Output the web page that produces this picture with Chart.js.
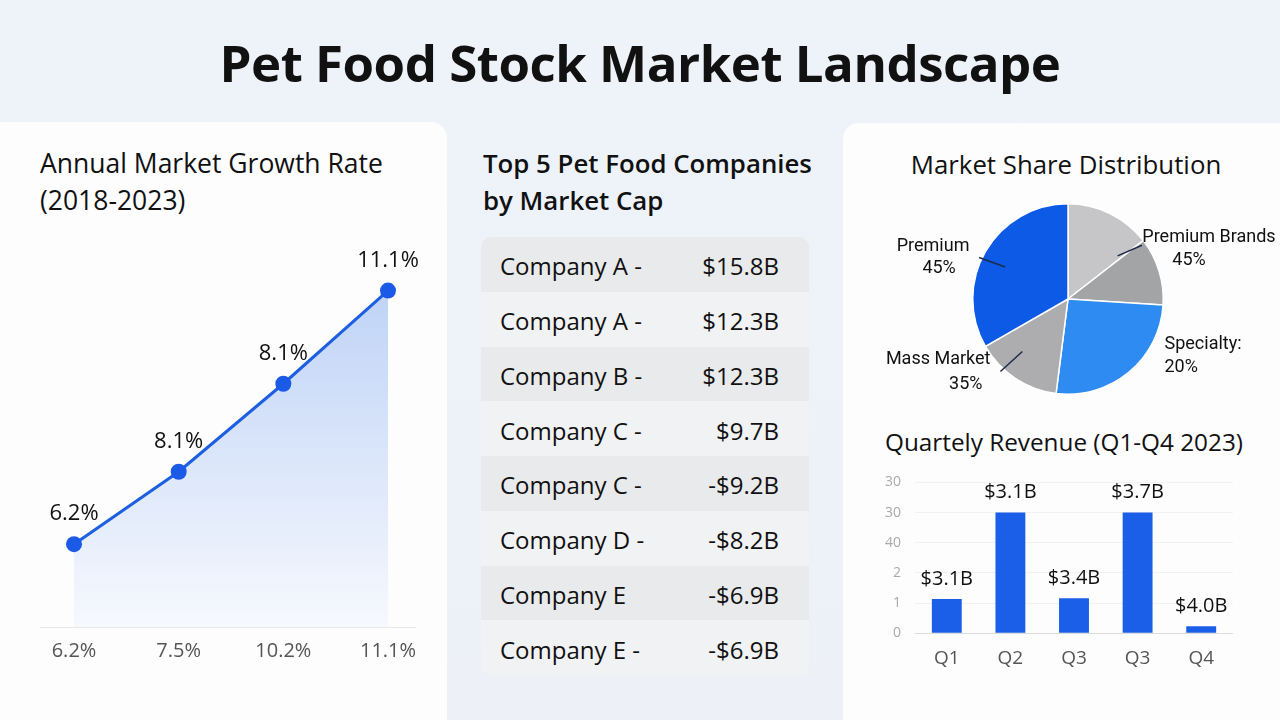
<!DOCTYPE html>
<html>
<head>
<meta charset="utf-8">
<script src="https://cdn.jsdelivr.net/npm/chart.js@4.4.1/dist/chart.umd.min.js"></script>
<style>
  html, body { margin:0; padding:0; }
  body { width:1280px; height:720px; overflow:hidden; position:relative;
         background: linear-gradient(180deg, #eef3fa 0%, #edf1f7 100%);
         font-family: "Open Sans", "Noto Sans", sans-serif; color:#111; }
  .abs { position:absolute; }
  #title { left:0; width:1280px; top:28px; text-align:center; font-size:51px; font-weight:700; letter-spacing:-0.5px; line-height:68px; }
  .card { background:#fdfdfe; border-radius:16px; }
  .h2 { font-size:26.5px; line-height:37px; font-weight:500; color:#111; }
  #tbl { left:481px; top:237px; width:328px; height:438px; border-radius:10px; overflow:hidden; }
  .row { height:54.75px; display:flex; align-items:center; justify-content:space-between; padding:3px 30px 0 19px; box-sizing:border-box; font-size:24px; }
  .row:nth-child(odd) { background:#e9eaec; }
  .row:nth-child(even) { background:#f1f2f4; }
  canvas { position:absolute; }
</style>
</head>
<body>
<div id="title" class="abs">Pet Food Stock Market Landscape</div>

<div class="abs card" style="left:-20px; top:122px; width:467px; height:640px;"></div>
<div class="abs card" style="left:843px; top:123px; width:460px; height:640px;"></div>

<div class="abs h2" style="left:40px; top:145px;">Annual Market Growth Rate<br>(2018-2023)</div>
<div class="abs h2" style="left:483px; top:145px; font-weight:600; font-size:25.8px;">Top 5 Pet Food Companies<br>by Market Cap</div>
<div class="abs h2" style="left:846px; width:440px; text-align:center; top:146px; font-size:25.8px;">Market Share Distribution</div>
<div class="abs h2" style="left:846px; width:436px; text-align:center; top:423px; font-size:24.3px;">Quartely Revenue (Q1-Q4 2023)</div>

<div id="tbl" class="abs"></div>

<canvas id="lineChart" width="447" height="453" style="left:0; top:230px;"></canvas>
<canvas id="pieChart" width="435" height="220" style="left:845px; top:190px;"></canvas>
<canvas id="barChart" width="420" height="234" style="left:860px; top:460px;"></canvas>

<script>
// ---------- DATA ----------
const growthTickLabels = ["6.2%", "7.5%", "10.2%", "11.1%"];
const growthValues = [6.2, 7.6, 9.3, 11.1];
const growthPointLabels = ["6.2%", "8.1%", "8.1%", "11.1%"];

const companies = ["Company A -", "Company A -", "Company B -", "Company C -", "Company C -", "Company D -", "Company E", "Company E -"];
const marketCaps = ["$15.8B", "$12.3B", "$12.3B", "$9.7B", "-$9.2B", "-$8.2B", "-$6.9B", "-$6.9B"];

const shareCategories = ["Other", "Premium Brands", "Specialty", "Mass Market", "Premium"];
const shareValues = [14.5, 11.5, 26, 14.7, 33.3];
const shareCalloutNames = ["", "Premium Brands", "Specialty:", "Mass Market", "Premium"];
const shareCalloutPcts = ["", "45%", "20%", "35%", "45%"];

const quarters = ["Q1", "Q2", "Q3", "Q3", "Q4"];
const revenueValues = [1.13, 4.0, 1.16, 4.0, 0.23];
const revenueLabels = ["$3.1B", "$3.1B", "$3.4B", "$3.7B", "$4.0B"];
const revenueTickLabels = ["0", "1", "2", "40", "30", "30"];

// ---------- TABLE ----------
const tbl = document.getElementById('tbl');
companies.forEach((c, i) => {
  const r = document.createElement('div');
  r.className = 'row';
  r.innerHTML = '<span>' + c + '</span><span>' + marketCaps[i] + '</span>';
  tbl.appendChild(r);
});

Chart.defaults.font.family = '"Open Sans", "Noto Sans", sans-serif';
Chart.defaults.animation = false;

// ---------- LINE ----------
const pointLabelPlugin = {
  id: 'pointLabels',
  afterDatasetsDraw(chart, args, opts) {
    const c = chart.ctx;
    const meta = chart.getDatasetMeta(0);
    c.save();
    c.font = opts.font;
    c.fillStyle = opts.color;
    c.textAlign = 'center';
    c.textBaseline = 'middle';
    meta.data.forEach((el, i) => {
      c.fillText(opts.labels[i], el.x, el.y + opts.offset);
    });
    c.restore();
  }
};

new Chart(document.getElementById('lineChart'), {
  type: 'line',
  data: {
    datasets: [{
      data: growthValues.map((v, i) => ({ x: i, y: v })),
      borderColor: '#1d5fe0',
      borderWidth: 3,
      pointRadius: 8,
      pointBackgroundColor: '#1a5ae6',
      pointBorderWidth: 0,
      tension: 0,
      fill: 'start',
      backgroundColor: (ctx) => {
        const { chart } = ctx;
        const area = chart.chartArea;
        if (!area) return 'rgba(40,110,230,0.15)';
        const g = chart.ctx.createLinearGradient(0, area.top, 0, area.bottom);
        g.addColorStop(0, 'rgba(40,110,230,0.32)');
        g.addColorStop(1, 'rgba(40,110,230,0.03)');
        return g;
      }
    }]
  },
  options: {
    responsive: false,
    layout: { padding: { left: 40, right: 32, top: 14, bottom: 8 } },
    plugins: {
      legend: { display: false }, tooltip: { enabled: false },
      pointLabels: { labels: growthPointLabels, font: '22px "Open Sans", sans-serif', color: '#111', offset: -30 }
    },
    scales: {
      x: {
        type: 'linear', min: -0.325, max: 3.258,
        grid: { display: false, drawTicks: false },
        border: { display: true, color: '#e8e8e8' },
        afterBuildTicks: (s) => { s.ticks = growthTickLabels.map((_, i) => ({ value: i })); },
        ticks: { padding: 12, color: '#555', font: { size: 20 }, callback: (v) => growthTickLabels[v] ?? '' }
      },
      y: { display: false, min: 4.6, max: 12 }
    }
  },
  plugins: [pointLabelPlugin]
});

// ---------- PIE ----------
const calloutPlugin = {
  id: 'callouts',
  afterDatasetsDraw(chart, args, opts) {
    const c = chart.ctx;
    const meta = chart.getDatasetMeta(0);
    const arc0 = meta.data[0];
    const cx = arc0.x, cy = arc0.y, R = arc0.outerRadius;
    const pt = (deg, rf) => {
      const a = deg * Math.PI / 180;
      return [cx + R * rf * Math.sin(a), cy - R * rf * Math.cos(a)];
    };
    c.save();
    opts.items.forEach(it => {
      const end = pt(it.to[0], it.to[1]);
      if (it.from) {
        const st = pt(it.from[0], it.from[1]);
        c.beginPath();
        c.strokeStyle = opts.lineColor;
        c.lineWidth = 1.5;
        c.moveTo(st[0], st[1]);
        c.lineTo(end[0], end[1]);
        c.stroke();
      }
      c.font = opts.font;
      c.fillStyle = opts.color;
      c.textAlign = it.align;
      c.textBaseline = 'middle';
      c.fillText(shareCalloutNames[it.index], end[0] + it.text[0], end[1] + it.text[1]);
      c.fillText(shareCalloutPcts[it.index], end[0] + it.pct[0], end[1] + it.pct[1]);
    });
    c.restore();
  }
};

new Chart(document.getElementById('pieChart'), {
  type: 'pie',
  data: {
    labels: shareCategories,
    datasets: [{
      data: shareValues,
      backgroundColor: ['#c6c6c8', '#a3a4a6', '#2e8bf2', '#adadaf', '#0c5ae6'],
      borderColor: '#ffffff',
      borderWidth: 1.5
    }]
  },
  options: {
    responsive: false,
    layout: { padding: { left: 127, right: 116, top: 13, bottom: 15 } },
    plugins: {
      legend: { display: false }, tooltip: { enabled: false },
      callouts: {
        font: '18px Roboto, sans-serif', color: '#111', lineColor: '#1e2a4a',
        items: [
          { index: 4, from: [297, 0.74], to: [295, 1.03], align: 'center', text: [-46, -11], pct: [-40, 11] },
          { index: 1, from: [49, 0.69], to: [54, 0.96], align: 'center', text: [67, -8], pct: [47, 15] },
          { index: 2, to: [115, 1.06], align: 'left', text: [5, 3], pct: [5, 26] },
          { index: 3, from: [221, 0.73], to: [223, 1.04], align: 'right', text: [-10, -12], pct: [-18, 13] }
        ]
      }
    }
  },
  plugins: [calloutPlugin]
});

// ---------- BAR ----------
const barLabelPlugin = {
  id: 'barLabels',
  afterDatasetsDraw(chart, args, opts) {
    const c = chart.ctx;
    const meta = chart.getDatasetMeta(0);
    c.save();
    c.font = opts.font;
    c.fillStyle = opts.color;
    c.textAlign = 'center';
    c.textBaseline = 'middle';
    meta.data.forEach((el, i) => c.fillText(opts.labels[i], el.x, el.y + opts.offset));
    c.restore();
  }
};

new Chart(document.getElementById('barChart'), {
  type: 'bar',
  data: {
    labels: quarters,
    datasets: [{ data: revenueValues, backgroundColor: '#1b5fe8', barPercentage: 0.47, categoryPercentage: 1 }]
  },
  options: {
    responsive: false,
    layout: { padding: { left: 0, right: 47, top: 15, bottom: 10 } },
    plugins: {
      legend: { display: false }, tooltip: { enabled: false },
      barLabels: { labels: revenueLabels, font: '20px "Open Sans", sans-serif', color: '#111', offset: -20 }
    },
    scales: {
      x: {
        grid: { display: false, drawTicks: false }, border: { display: false },
        ticks: { padding: 14, color: '#555', font: { size: 19 } }
      },
      y: {
        min: 0, max: 5,
        afterFit: (s) => { s.width = 55; },
        grid: { drawTicks: false, color: (ctx) => ctx.tick && ctx.tick.value === 0 ? '#dcdcdc' : '#f1f1f1' },
        border: { display: false },
        ticks: { stepSize: 1, padding: 14, color: '#aaa', font: { size: 14 }, callback: (v) => revenueTickLabels[v] ?? '' }
      }
    }
  },
  plugins: [barLabelPlugin]
});
</script>
</body>
</html>
